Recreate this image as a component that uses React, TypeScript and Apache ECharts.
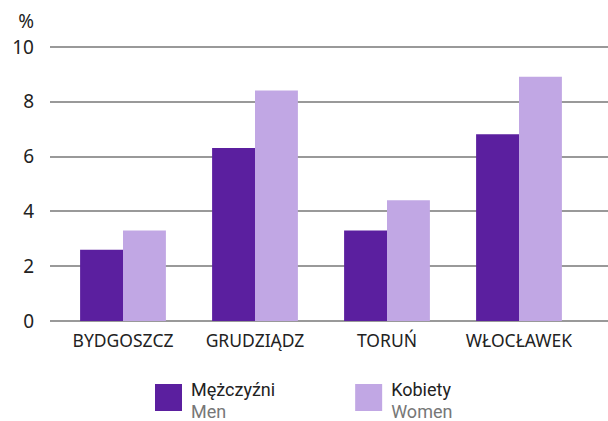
import React, { useEffect, useRef } from "react";
import * as echarts from "echarts";

const categories = ["BYDGOSZCZ", "GRUDZIĄDZ", "TORUŃ", "WŁOCŁAWEK"];
const menValues = [2.6, 6.3, 3.3, 6.8];
const womenValues = [3.3, 8.4, 4.4, 8.9];
const seriesNames = ["Mężczyźni", "Kobiety"];
const seriesSubNames = ["Men", "Women"];
const yTicks = [0, 2, 4, 6, 8, 10];

const FONT = "'Noto Sans', 'Open Sans', sans-serif";
const LEGEND_FONT = "Roboto, 'Noto Sans', sans-serif";

export default function App() {
  const ref = useRef<HTMLDivElement>(null);
  useEffect(() => {
    if (!ref.current) return;
    const chart = echarts.init(ref.current, null, { renderer: "svg" });
    const sub: Record<string, string> = {};
    seriesNames.forEach((n, i) => (sub[n] = seriesSubNames[i]));
    chart.setOption({
      animation: false,
      textStyle: { fontFamily: FONT },
      grid: [
        { left: 50, right: 0, top: 46.5, bottom: 100, containLabel: false },
        { left: 57, right: 23, top: 46.5, bottom: 100, containLabel: false },
      ],
      xAxis: [
        { gridIndex: 0, type: "value", show: false, min: 0, max: 1 },
        {
          gridIndex: 1,
          type: "category",
          data: categories,
          axisLine: { show: false },
          axisTick: { show: false },
          axisLabel: { color: "#222", fontSize: 17.5, fontFamily: FONT, margin: 10, interval: 0, hideOverlap: false },
        },
      ],
      yAxis: [
        {
          gridIndex: 0,
          type: "value",
          min: yTicks[0],
          max: yTicks[yTicks.length - 1],
          interval: 2,
          name: "%",
          nameLocation: "end",
          nameGap: 16,
          nameTextStyle: { color: "#222", fontSize: 19, fontFamily: FONT, align: "right", padding: [0, 16, 0, 0] },
          axisLine: { show: false },
          axisTick: { show: false },
          axisLabel: { color: "#222", fontSize: 19, fontFamily: FONT, margin: 16 },
          splitLine: { lineStyle: { color: "#777", width: 1.5 } },
        },
        {
          gridIndex: 1,
          type: "value",
          min: yTicks[0],
          max: yTicks[yTicks.length - 1],
          interval: 2,
          show: false,
          splitLine: { show: false },
        },
      ],
      legend: {
        data: seriesNames,
        left: 155,
        top: 380,
        padding: 0,
        itemWidth: 27,
        itemHeight: 27,
        itemGap: 80,
        icon: "rect",
        formatter: (name: string) => `{a|${name}}\n{b|${sub[name]}}`,
        textStyle: {
          padding: [5, 0, 0, 4],
          rich: {
            a: { fontSize: 18, color: "#222", fontFamily: LEGEND_FONT, lineHeight: 22 },
            b: { fontSize: 18, color: "#777", fontFamily: LEGEND_FONT, lineHeight: 22 },
          },
        },
      },
      series: [
        {
          name: seriesNames[0],
          type: "bar",
          xAxisIndex: 1,
          yAxisIndex: 1,
          data: menValues,
          barGap: "0%",
          barCategoryGap: "35%",
          itemStyle: { color: "#5B1F9F" },
        },
        {
          name: seriesNames[1],
          type: "bar",
          xAxisIndex: 1,
          yAxisIndex: 1,
          data: womenValues,
          barGap: "0%",
          barCategoryGap: "35%",
          itemStyle: { color: "#C1A7E4" },
        },
      ],
    });
    return () => chart.dispose();
  }, []);
  return <div ref={ref} style={{ width: 608, height: 421, position: "absolute", left: 0, top: 0 }} />;
}
